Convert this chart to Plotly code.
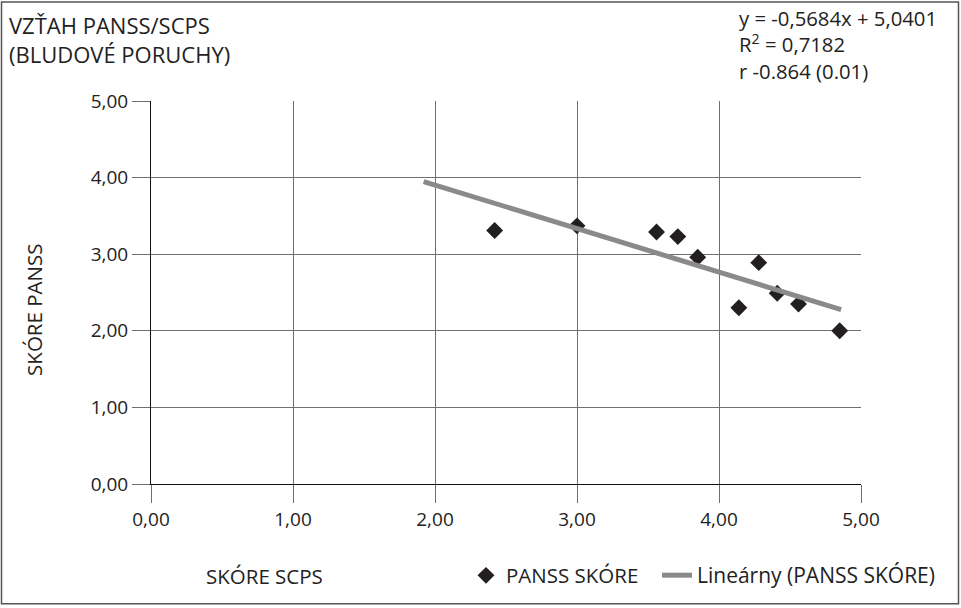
import plotly.graph_objects as go

# Data
scps = [2.42, 3.00, 3.56, 3.71, 3.85, 4.14, 4.28, 4.41, 4.56, 4.85]
panss = [3.31, 3.37, 3.29, 3.23, 2.96, 2.30, 2.89, 2.49, 2.35, 2.00]
slope = -0.5684
intercept = 5.0401
trend_x = [1.92, 4.86]
trend_y = [slope * x + intercept for x in trend_x]
ticks = [0, 1, 2, 3, 4, 5]
tick_labels = ["0,00", "1,00", "2,00", "3,00", "4,00", "5,00"]
equation_lines = ["y = -0,5684x + 5,0401", "R<sup>2</sup> = 0,7182", "r -0.864 (0.01)"]
title_lines = ["VZŤAH PANSS/SCPS", "(BLUDOVÉ PORUCHY)"]

W, H = 961, 608
L, R, T, B = 151, 100, 101, 122
pw, ph = W - L - R, H - T - B
FONT = "Open Sans"
TXT = "#222222"

fig = go.Figure()
fig.add_trace(go.Scatter(
    x=scps, y=panss, mode="markers", name="PANSS SKÓRE", legend="legend",
    marker=dict(symbol="diamond", size=13, color="#231f20"),
))
fig.add_trace(go.Scatter(
    x=trend_x, y=trend_y, mode="lines", name="Lineárny (PANSS SKÓRE)", legend="legend2",
    line=dict(color="#8a8a8c", width=5),
))

axis_common = dict(
    range=[0, 5], tickvals=ticks, ticktext=tick_labels,
    showgrid=True, gridcolor="#6f6f6f", gridwidth=1,
    showline=True, linecolor="#111111", linewidth=1,
    ticks="outside", ticklen=18, tickcolor="#6f6f6f",
    tickfont=dict(family=FONT, size=19, color=TXT),
    zeroline=False, fixedrange=True,
)
fig.update_xaxes(**axis_common)
fig.update_yaxes(**axis_common)

def px(x):
    return (x - L) / pw

def py(y):
    return 1 - (y - T) / ph

annotations = [
    dict(text="<br>".join(title_lines), x=px(7), y=py(39), xanchor="left", yanchor="middle",
         align="left", font=dict(family=FONT, size=22, color=TXT)),
    dict(text="<br>".join(equation_lines), x=px(737), y=py(44), xanchor="left", yanchor="middle",
         align="left", font=dict(family=FONT, size=20.3, color=TXT)),
    dict(text="SKÓRE SCPS", x=px(204), y=py(578), xanchor="left", yanchor="middle",
         font=dict(family=FONT, size=20.5, color=TXT)),
    dict(text="SKÓRE PANSS", x=px(34), y=py(311), xanchor="center", yanchor="middle",
         textangle=-90, font=dict(family=FONT, size=20.5, color=TXT)),
]
for a in annotations:
    a.update(xref="paper", yref="paper", showarrow=False)

legend_common = dict(orientation="h", yanchor="middle", xanchor="left",
                     bgcolor="rgba(0,0,0,0)", itemwidth=30)
fig.update_layout(
    width=W, height=H,
    margin=dict(l=L, r=R, t=T, b=B),
    paper_bgcolor="white", plot_bgcolor="white",
    showlegend=True,
    legend=dict(x=px(466), y=py(578), font=dict(family=FONT, size=20.5, color=TXT), **legend_common),
    legend2=dict(x=px(657), y=py(578), font=dict(family=FONT, size=21, color=TXT), **legend_common),
    annotations=annotations,
    shapes=[dict(type="rect", xref="paper", yref="paper",
                 x0=px(1.5), x1=px(958.5), y0=py(1.5), y1=py(606.5),
                 line=dict(color="#555555", width=1.5), fillcolor="rgba(0,0,0,0)",
                 layer="below")],
)

fig.write_html("out.html")
